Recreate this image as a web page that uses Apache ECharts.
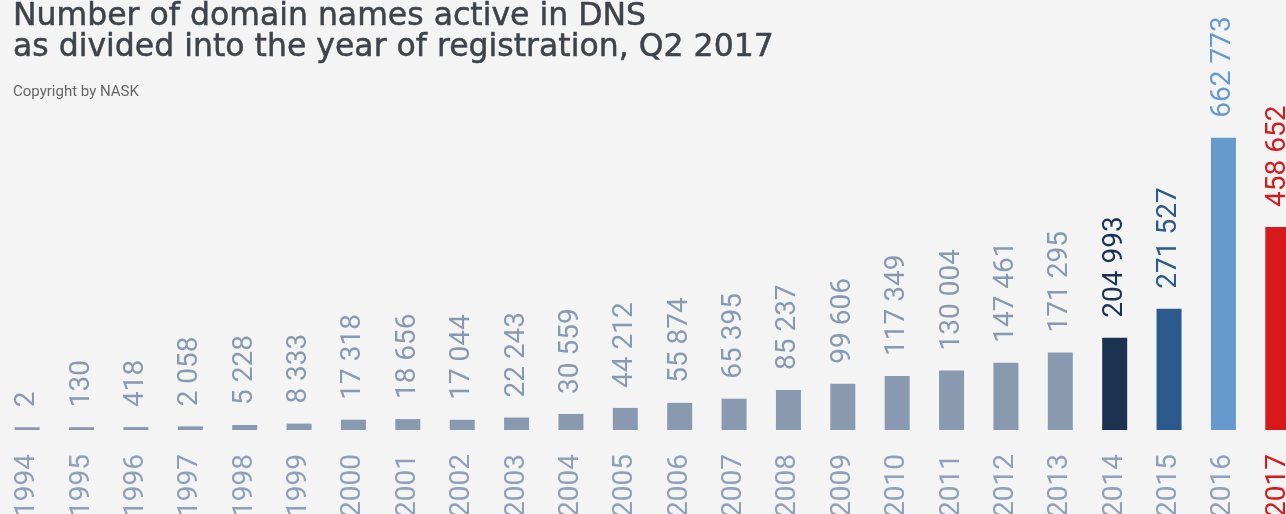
<!DOCTYPE html>
<html>
<head>
<meta charset="utf-8">
<script src="https://cdn.jsdelivr.net/npm/echarts@6/dist/echarts.min.js"></script>
<style>
  html, body { margin: 0; padding: 0; background: #f4f4f4; overflow: hidden; }
  #main { width: 1306px; height: 514px; }
</style>
</head>
<body>
<div id="main"></div>
<script>
// lata rejestracji
var years = ['1994', '1995', '1996', '1997', '1998', '1999', '2000', '2001', '2002', '2003', '2004', '2005',
             '2006', '2007', '2008', '2009', '2010', '2011', '2012', '2013', '2014', '2015', '2016', '2017'];
// liczba aktywnych domen
var domains = [2, 130, 418, 2058, 5228, 8333, 17318, 18656, 17044, 22243, 30559, 44212,
               55874, 65395, 85237, 99606, 117349, 130004, 147461, 171295, 204993, 271527, 662773, 458652];

var baseColor = '#8899b0';
var specialColors = { '2014': '#1b3350', '2015': '#2c5a8c', '2016': '#6699cc', '2017': '#d8191b' };
// slupki w oryginale startuja troche ponizej zera
var axisStart = -6270;

function fmt(v) {
    return String(v).replace(/\B(?=(\d{3})+(?!\d))/g, ' ');
}

var chart = echarts.init(document.getElementById('main'));

var seriesData = domains.map(function (v, i) {
    var c = specialColors[years[i]] || baseColor;
    return { value: v, itemStyle: { color: c }, label: { color: c } };
});

chart.setOption({
    backgroundColor: '#f4f4f4',
    animation: false,
    title: [
        {
            text: 'Number of domain names active in DNS\nas divided into the year of registration, Q2 2017',
            left: 13,
            top: 1,
            padding: 0,
            textStyle: {
                fontFamily: 'DejaVu Sans',
                fontWeight: 'normal',
                fontSize: 31.5,
                lineHeight: 31,
                color: '#3d434a',
                textBorderColor: '#3d434a',
                textBorderWidth: 0.5
            }
        },
        {
            text: 'Copyright by NASK',
            left: 13,
            top: 85,
            padding: 0,
            textStyle: {
                fontFamily: 'Roboto',
                fontWeight: 'normal',
                fontSize: 15,
                color: '#666666'
            }
        }
    ],
    grid: { left: 0, right: 1, top: 137.7, bottom: 84, outerBoundsMode: 'none' },
    xAxis: {
        type: 'category',
        data: years,
        axisLine: { show: false },
        axisTick: { show: false },
        axisLabel: {
            rotate: 90,
            margin: 24,
            interval: 0,
            fontFamily: 'Roboto',
            fontWeight: 'normal',
            fontSize: 28,
            color: function (value) {
                return value === '2017' ? '#d8191b' : '#8fa0b8';
            }
        }
    },
    yAxis: {
        type: 'value',
        min: axisStart,
        startValue: axisStart,
        max: 'dataMax',
        show: false,
        splitLine: { show: false }
    },
    series: [{
        type: 'bar',
        data: seriesData,
        barWidth: 25,
        barMinHeight: 2,
        label: {
            show: true,
            position: 'top',
            rotate: 90,
            align: 'left',
            verticalAlign: 'middle',
            distance: 20,
            fontFamily: 'Roboto',
            fontWeight: 'normal',
            fontSize: 28,
            formatter: function (p) { return fmt(p.value); }
        }
    }]
});
</script>
</body>
</html>
